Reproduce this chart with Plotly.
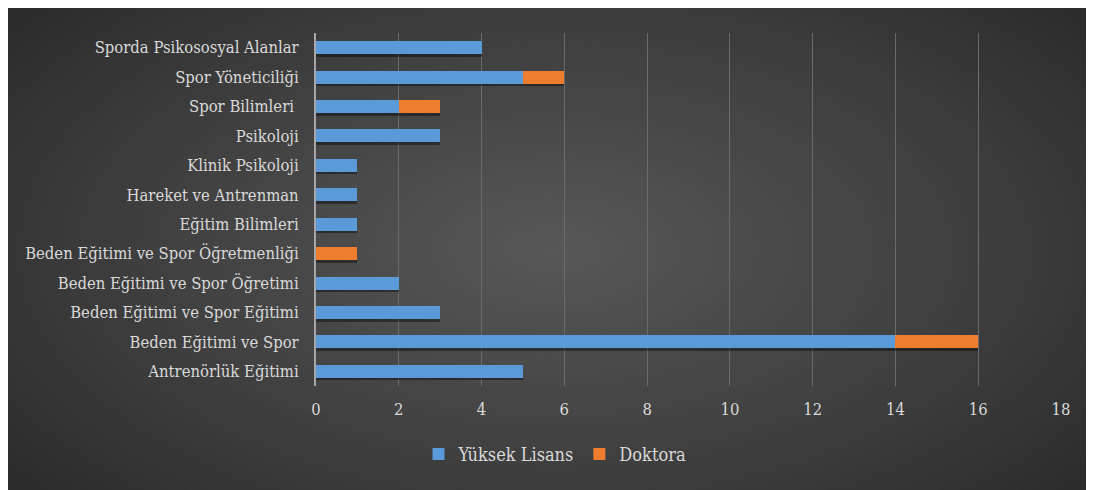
"""Bölümlere göre Yüksek Lisans / Doktora dağılımı (yatay yığılmış bar)."""

import plotly.graph_objects as go

categories = [
    "Antrenörlük Eğitimi",
    "Beden Eğitimi ve Spor",
    "Beden Eğitimi ve Spor Eğitimi",
    "Beden Eğitimi ve Spor Öğretimi",
    "Beden Eğitimi ve Spor Öğretmenliği",
    "Eğitim Bilimleri",
    "Hareket ve Antrenman",
    "Klinik Psikoloji",
    "Psikoloji",
    "Spor Bilimleri ",
    "Spor Yöneticiliği",
    "Sporda Psikososyal Alanlar",
]
yuksek_lisans = [5, 14, 3, 2, 0, 1, 1, 1, 3, 2, 5, 4]
doktora = [0, 2, 0, 0, 1, 0, 0, 0, 0, 1, 1, 0]
x_ticks = [0, 2, 4, 6, 8, 10, 12, 14, 16, 18]

totals = [a + b for a, b in zip(yuksek_lisans, doktora)]

W, H = 1094, 490
OFF = 8  # page body margin
L, R, T, B = 316 - OFF, 33 + OFF, 33 - OFF, 103.5 + OFF
pw, ph = W - L - R, H - T - B
FONT = "DejaVu Serif Condensed, DejaVu Serif, serif"

fig = go.Figure()

# soft shadow under the bars (primary axis, drawn below the overlaid one)
fig.add_trace(go.Bar(
    y=categories, x=totals, orientation="h",
    marker=dict(color="rgba(0,0,0,0.4)", line=dict(width=0)),
    width=0.44, offset=-0.31, showlegend=False, hoverinfo="skip",
))
fig.add_trace(go.Bar(
    y=categories, x=yuksek_lisans, orientation="h", name="Yüksek Lisans",
    yaxis="y2", marker=dict(color="#5a9ad9", line=dict(width=0)), width=0.44,
))
fig.add_trace(go.Bar(
    y=categories, x=doktora, orientation="h", name="Doktora",
    yaxis="y2", marker=dict(color="#ee7d30", line=dict(width=0)), width=0.44,
))

# radial gradient background built from stacked ellipses
cx, cy = 555 - OFF, 250 - OFF
n = 60
c_in, c_out = 88, 36
shapes = []
for i in range(n):
    f = 1 - i / n
    rx, ry = 800 * f, 420 * f
    c = round(c_out + (c_in - c_out) * (1 - f) ** 0.9)
    shapes.append(dict(
        type="circle", xref="paper", yref="paper", layer="below",
        x0=(cx - rx - L) / pw, x1=(cx + rx - L) / pw,
        y0=(H - B - (cy + ry)) / ph, y1=(H - B - (cy - ry)) / ph,
        fillcolor=f"rgb({c},{c},{c})", line=dict(width=0),
    ))

fig.update_layout(
    width=W, height=H,
    barmode="stack", bargap=0.56,
    margin=dict(l=L, r=R, t=T, b=B),
    paper_bgcolor="#262626",
    plot_bgcolor="rgba(0,0,0,0)",
    font=dict(family=FONT, size=16, color="#d9d9d9"),
    shapes=shapes,
    xaxis=dict(
        range=[0, 18], tickvals=x_ticks, showgrid=True, gridcolor="#6b6b6b",
        gridwidth=1, zeroline=False, showline=False,
        ticks="outside", ticklen=8, tickcolor="rgba(0,0,0,0)",
        tickfont=dict(family=FONT, size=16.5, color="#d9d9d9"),
    ),
    yaxis=dict(
        categoryorder="array", categoryarray=categories,
        showgrid=False, zeroline=False, showline=True, linecolor="#a6a6a6",
        linewidth=2, ticks="outside", ticklen=12, tickcolor="rgba(0,0,0,0)",
        tickfont=dict(family=FONT, size=16.5, color="#d9d9d9"),
    ),
    yaxis2=dict(
        overlaying="y", categoryorder="array", categoryarray=categories,
        visible=False, matches="y",
    ),
    legend=dict(
        orientation="h", x=(555 - OFF - L) / pw, xanchor="center",
        y=(H - B - (455 - OFF)) / ph, yanchor="middle",
        font=dict(family=FONT, size=18, color="#d9d9d9"),
        bgcolor="rgba(0,0,0,0)", traceorder="normal", itemwidth=30,
    ),
)

fig.write_html("out.html")
